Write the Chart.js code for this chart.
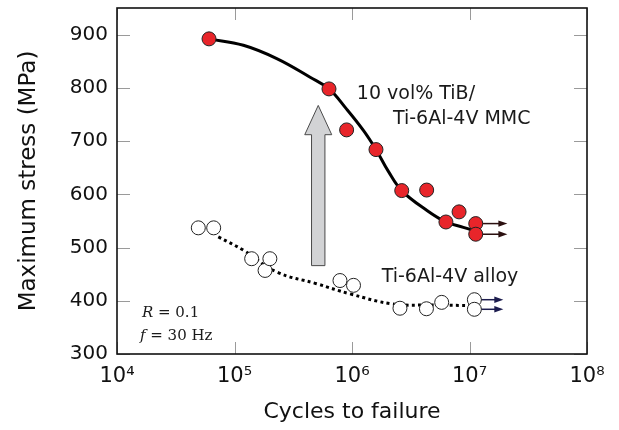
<!DOCTYPE html>
<html>
<head>
<meta charset="utf-8">
<script src="https://cdn.jsdelivr.net/npm/chart.js@4.4.1/dist/chart.umd.min.js"></script>
<style>
  html, body { margin: 0; padding: 0; background: #ffffff; }
  canvas { display: block; }
</style>
</head>
<body>
<canvas id="c" width="619" height="430"></canvas>
<script>
// ---------- data ----------
const xTickValues = [1e4, 1e5, 1e6, 1e7, 1e8];
const xTickLabels = ['10\u2074', '10\u2075', '10\u2076', '10\u2077', '10\u2078'];
const yTickValues = [300, 400, 500, 600, 700, 800, 900];

// 10 vol% TiB / Ti-6Al-4V MMC (filled red circles)
const mmcCycles = [6.07e4, 6.37e5, 9.0e5, 1.6e6, 2.65e6, 4.32e6, 6.3e6, 8.15e6, 1.13e7, 1.13e7];
const mmcStress = [892, 798, 721, 684, 607, 608, 548, 567, 545, 525];

// Ti-6Al-4V alloy (open circles)
const alloyCycles = [4.92e4, 6.65e4, 1.4e5, 1.82e5, 2.0e5, 7.9e5, 1.03e6, 2.56e6, 4.3e6, 5.8e6, 1.1e7, 1.1e7];
const alloyStress = [537, 537, 479, 457, 479, 438, 429, 386, 385, 397, 402, 384];

// fitted trend curves
const mmcFitCycles = [6.07e4, 1.19e5, 2.29e5, 4.4e5, 6.37e5, 9.0e5, 1.25e6, 1.6e6, 2.04e6, 2.65e6, 4.32e6, 6.3e6, 8.87e6, 1.05e7];
const mmcFitStress = [892, 880, 855, 820, 798, 760, 720, 684, 643, 607, 570, 548, 538, 533];
const alloyFitCycles = [7.28e4, 1.19e5, 2.29e5, 5.0e5, 9.6e5, 2.24e6, 5.0e6, 1.1e7];
const alloyFitStress = [520, 495, 454, 432, 413, 394, 392, 391];

// run-out arrows (specimens that did not fail)
const mmcRunoutStart = [1.13e7, 1.13e7];
const mmcRunoutEnd = [2.1e7, 2.1e7];
const mmcRunoutStress = [545, 525];
const alloyRunoutStart = [1.1e7, 1.1e7];
const alloyRunoutEnd = [1.94e7, 1.94e7];
const alloyRunoutStress = [402, 384];

// big grey arrow (improvement), in data units
const bigArrowCycles = 5.16e5;
const bigArrowBase = 466;
const bigArrowHeadBase = 712;
const bigArrowTip = 767;

// annotation labels
const annotationTexts = ['10 vol% TiB/', 'Ti-6Al-4V MMC', 'Ti-6Al-4V alloy'];
const annotationCycles = [1.1e6, 2.23e6, 1.79e6];
const annotationStress = [788, 741, 444];
const conditionCycles = 1.63e4;
const conditionStress = [376.7, 333];

// ---------- helpers ----------
const toXY = (xs, ys) => xs.map((x, i) => ({ x: x, y: ys[i] }));
const SANS = '"DejaVu Sans", "Liberation Sans", Arial, sans-serif';
const SERIF = '"DejaVu Serif", "Liberation Serif", "Times New Roman", serif';

const decorPlugin = {
  id: 'decor',
  beforeDatasetsDraw(chart) {
    const { ctx, chartArea: a, scales: { x, y } } = chart;
    ctx.save();
    // inside tick marks on all four sides
    ctx.strokeStyle = '#9a9a9a';
    ctx.lineWidth = 1;
    ctx.beginPath();
    x.ticks.forEach(t => {
      const px = Math.round(x.getPixelForValue(t.value)) + 0.5;
      ctx.moveTo(px, a.bottom); ctx.lineTo(px, a.bottom - 12);
      ctx.moveTo(px, a.top); ctx.lineTo(px, a.top + 12);
    });
    y.ticks.forEach(t => {
      const py = Math.round(y.getPixelForValue(t.value)) + 0.5;
      ctx.moveTo(a.left, py); ctx.lineTo(a.left + 13, py);
      ctx.moveTo(a.right, py); ctx.lineTo(a.right - 13, py);
    });
    ctx.stroke();

    // grey block arrow
    const ax = x.getPixelForValue(bigArrowCycles);
    const yb = y.getPixelForValue(bigArrowBase);
    const yh = y.getPixelForValue(bigArrowHeadBase);
    const yt = y.getPixelForValue(bigArrowTip);
    const sw = 6.7, hw = 13.5;
    ctx.beginPath();
    ctx.moveTo(ax - sw, yb);
    ctx.lineTo(ax - sw, yh);
    ctx.lineTo(ax - hw, yh);
    ctx.lineTo(ax, yt);
    ctx.lineTo(ax + hw, yh);
    ctx.lineTo(ax + sw, yh);
    ctx.lineTo(ax + sw, yb);
    ctx.closePath();
    ctx.fillStyle = '#d2d3d5';
    ctx.fill();
    ctx.strokeStyle = '#4a4a4a';
    ctx.lineWidth = 1;
    ctx.stroke();

    // run-out arrows
    const drawRunouts = (starts, ends, ys, color) => {
      starts.forEach((s, i) => {
        const x0 = x.getPixelForValue(s);
        const x1 = x.getPixelForValue(ends[i]);
        const py = y.getPixelForValue(ys[i]);
        ctx.strokeStyle = color;
        ctx.fillStyle = color;
        ctx.lineWidth = 1.5;
        ctx.beginPath();
        ctx.moveTo(x0, py); ctx.lineTo(x1 - 6, py);
        ctx.stroke();
        ctx.beginPath();
        ctx.moveTo(x1, py);
        ctx.lineTo(x1 - 9, py - 3.2);
        ctx.lineTo(x1 - 9, py + 3.2);
        ctx.closePath();
        ctx.fill();
      });
    };
    drawRunouts(mmcRunoutStart, mmcRunoutEnd, mmcRunoutStress, '#2b1010');
    drawRunouts(alloyRunoutStart, alloyRunoutEnd, alloyRunoutStress, '#1c1c4e');
    ctx.restore();
  },
  afterDraw(chart) {
    const { ctx, chartArea: a, scales: { x, y } } = chart;
    ctx.save();
    // frame
    ctx.strokeStyle = '#111';
    ctx.lineWidth = 1.6;
    ctx.strokeRect(a.left, a.top, a.right - a.left, a.bottom - a.top);

    // annotation texts
    ctx.fillStyle = '#1a1a1a';
    ctx.textBaseline = 'middle';
    ctx.textAlign = 'left';
    ctx.font = '19px ' + SANS;
    annotationTexts.forEach((t, i) => {
      ctx.fillText(t, x.getPixelForValue(annotationCycles[i]), y.getPixelForValue(annotationStress[i]));
    });

    // test conditions (serif, italic symbols)
    const cx = x.getPixelForValue(conditionCycles);
    const drawMixed = (parts, px, py) => {
      parts.forEach(p => {
        ctx.font = (p[1] ? 'italic ' : '') + '15px ' + SERIF;
        ctx.fillText(p[0], px, py);
        px += ctx.measureText(p[0]).width;
      });
    };
    drawMixed([['R', true], [' = 0.1', false]], cx, y.getPixelForValue(conditionStress[0]));
    drawMixed([['f', true], [' = 30 Hz', false]], cx - 2, y.getPixelForValue(conditionStress[1]));
    ctx.restore();
  }
};

new Chart(document.getElementById('c'), {
  type: 'scatter',
  data: {
    datasets: [
      {
        label: '10 vol% TiB/Ti-6Al-4V MMC',
        data: toXY(mmcCycles, mmcStress),
        backgroundColor: '#e8252a',
        borderColor: '#222',
        borderWidth: 1,
        pointRadius: 7,
        order: 0
      },
      {
        label: 'Ti-6Al-4V alloy',
        data: toXY(alloyCycles, alloyStress),
        backgroundColor: '#ffffff',
        borderColor: '#222',
        borderWidth: 1,
        pointRadius: 7,
        order: 0
      },
      {
        label: 'MMC trend',
        data: toXY(mmcFitCycles, mmcFitStress),
        showLine: true,
        pointRadius: 0,
        borderColor: '#000',
        borderWidth: 3,
        tension: 0.4,
        fill: false,
        order: 1
      },
      {
        label: 'Alloy trend',
        data: toXY(alloyFitCycles, alloyFitStress),
        showLine: true,
        pointRadius: 0,
        borderColor: '#000',
        borderWidth: 3,
        borderDash: [3, 3.3],
        tension: 0.4,
        fill: false,
        order: 1
      }
    ]
  },
  options: {
    responsive: false,
    animation: false,
    devicePixelRatio: 1,
    layout: { padding: { left: 0, right: 32, top: 7, bottom: 0 } },
    plugins: { legend: { display: false }, tooltip: { enabled: false } },
    scales: {
      x: {
        type: 'logarithmic',
        min: 1e4,
        max: 1e8,
        afterBuildTicks: s => { s.ticks = xTickValues.map(v => ({ value: v })); },
        afterFit: s => { s.height = 76; s.paddingLeft = 0; s.paddingRight = 0; },
        grid: { display: false, drawTicks: false },
        border: { display: false },
        ticks: {
          autoSkip: false,
          maxRotation: 0,
          padding: 10,
          color: '#111',
          font: { family: SANS, size: 21 },
          callback: (v) => { const i = xTickValues.indexOf(v); return i >= 0 ? xTickLabels[i] : ''; }
        },
        title: {
          display: true,
          text: 'Cycles to failure',
          color: '#111',
          font: { family: SANS, size: 22 },
          padding: { top: 0, bottom: 5 }
        }
      },
      y: {
        type: 'linear',
        min: 300,
        max: 950,
        afterBuildTicks: s => { s.ticks = yTickValues.map(v => ({ value: v })); },
        afterFit: s => { s.width = 117; s.paddingTop = 0; s.paddingBottom = 0; },
        grid: { display: false, drawTicks: false },
        border: { display: false },
        ticks: {
          padding: 9,
          color: '#111',
          font: { family: SANS, size: 20 }
        },
        title: {
          display: true,
          text: 'Maximum stress (MPa)',
          color: '#111',
          font: { family: SANS, size: 23 },
          padding: { top: 15, bottom: 0 }
        }
      }
    }
  },
  plugins: [decorPlugin]
});
</script>
</body>
</html>
